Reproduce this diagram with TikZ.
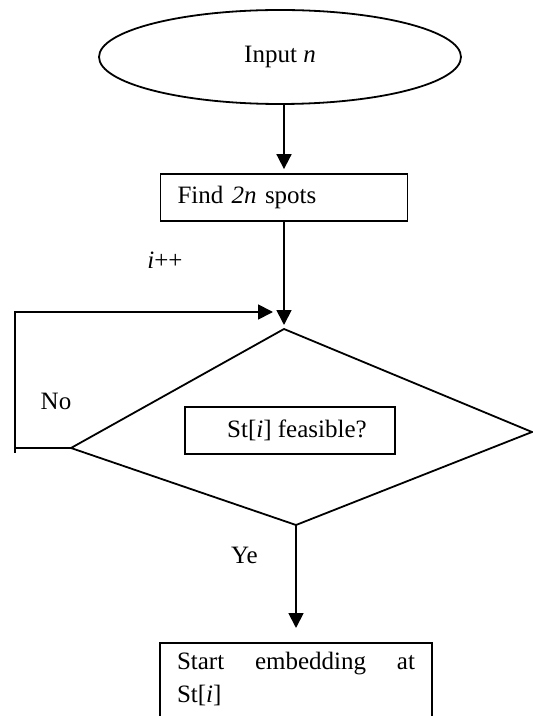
\documentclass[tikz,border=0pt]{standalone}
\usepackage{fontspec}
\setmainfont{Liberation Serif}
\usetikzlibrary{shapes.geometric,arrows.meta}
\begin{document}
\begin{tikzpicture}[x=0.5pt,y=-0.5pt,line width=0.9pt,
  every node/.style={font=\fontsize{12.5}{16.5}\selectfont,inner sep=0pt},
  box/.style={draw,rectangle},
  arr/.style={-{Triangle[length=7.5pt,width=7.5pt]}}]
\useasboundingbox (0,0) rectangle (533,716);
\clip (0,0) rectangle (533,716);

% start terminal and first process
\node[draw,ellipse,minimum width=181pt,minimum height=47pt] (input) at (280,57) {Input \textit{n}};
\node[box,text width=106.5pt,align=left,inner xsep=8.5pt,minimum height=23.5pt] (find) at (284,197.5) {Find \textit{2n} spots};

% decision shape
\coordinate (dtop) at (284,329);
\coordinate (dright) at (532,432);
\coordinate (dbottom) at (296,525);
\coordinate (dleft) at (71,448);
\draw (dtop) -- (dright) -- (dbottom) -- (dleft) -- cycle;
\node[box,minimum width=105pt,minimum height=23.5pt] (test) at (290,430.5) {\hspace*{7pt}St[\textit{i}] feasible?};

% final process, running off the lower edge (deep strut keeps the frame open below)
\node[box,anchor=north,text width=119pt,inner xsep=8.5pt,inner ysep=4.5pt,align=left] (start) at (296,642)
  {Start\hfill embedding\hfill at\\St[\textit{i}]\rule[-20pt]{0pt}{20pt}};

% connectors
\draw[arr,shorten >=2pt] (input.south -| find.north) -- (find.north);
\draw[arr,shorten >=2pt] (find.south) -- (dtop);
\coordinate (loopcorner) at (15,448);
\coordinate (looptop) at (15,312);
\coordinate (merge) at (273,312);
\draw[arr] (dleft) -- (loopcorner) -- (looptop) -- (merge);
\draw (loopcorner) -- ++(0,5);
\draw[arr,shorten >=7pt] (dbottom) -- (dbottom |- start.north);

% labels
\node (inc) at (165,260) {\textit{i}++};
\node (no) at (56,401) {No};
\node (yes) at (244.5,555) {Ye};
\end{tikzpicture}
\end{document}
